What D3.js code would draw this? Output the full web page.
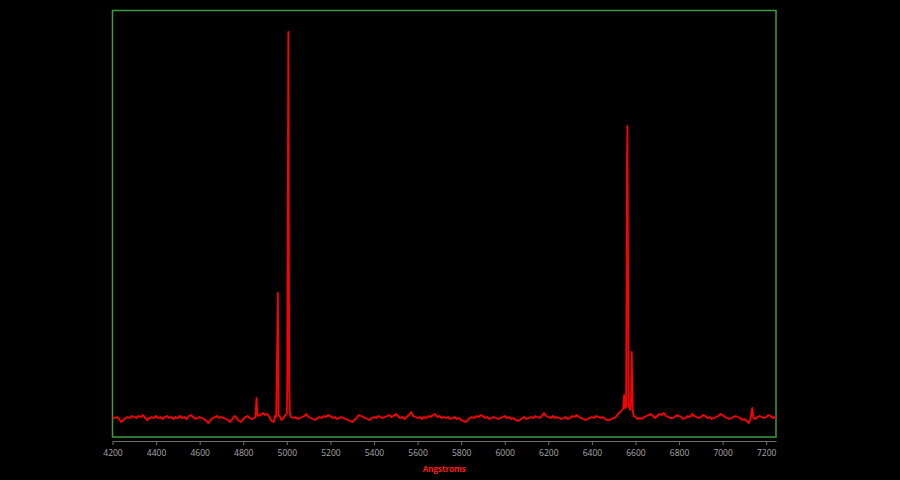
<!DOCTYPE html>
<html><head><meta charset="utf-8">
<script src="https://cdn.jsdelivr.net/npm/d3@7"></script>
<style>html,body{margin:0;padding:0;background:#000;} svg{display:block}</style>
</head><body>
<svg id="chart" width="900" height="480"></svg>
<script>
// Wavelength (Angstroms) of each sample
const wavelength = [
  4200,4210,4220,4230,4240,4250,4260,4270,4280,4290,
  4300,4310,4320,4330,4340,4350,4360,4370,4380,4390,
  4400,4410,4420,4430,4440,4450,4460,4470,4480,4490,
  4500,4510,4520,4530,4540,4550,4560,4570,4580,4590,
  4600,4610,4620,4630,4640,4650,4660,4670,4680,4690,
  4700,4710,4720,4730,4740,4750,4760,4770,4780,4790,
  4800,4810,4820,4830,4840,4850,4856,4861,4865,4870,
  4880,4890,4900,4910,4920,4930,4940,4946,4951,4955,4959,4962,
  4966,4970,4975,4980,4985,4990,4995,5000,5002,5007,5011,5014,5018,
  5030,5040,5050,5060,5070,5080,5090,
  5100,5110,5120,5130,5140,5150,5160,5170,5180,5190,
  5200,5210,5220,5230,5240,5250,5260,5270,5280,5290,
  5300,5310,5320,5330,5340,5350,5360,5370,5380,5390,
  5400,5410,5420,5430,5440,5450,5460,5470,5480,5490,
  5500,5510,5520,5530,5540,5550,5560,5570,5580,5590,
  5600,5610,5620,5630,5640,5650,5660,5670,5680,5690,
  5700,5710,5720,5730,5740,5750,5760,5770,5780,5790,
  5800,5810,5820,5830,5840,5850,5860,5870,5880,5890,
  5900,5910,5920,5930,5940,5950,5960,5970,5980,5990,
  6000,6010,6020,6030,6040,6050,6060,6070,6080,6090,
  6100,6110,6120,6130,6140,6150,6160,6170,6180,6190,
  6200,6210,6220,6230,6240,6250,6260,6270,6280,6290,
  6300,6310,6320,6330,6340,6350,6360,6370,6380,6390,
  6400,6410,6420,6430,6440,6450,6460,6470,6480,6490,
  6500,6510,6520,6530,6538,6544,6548,6552,6557,6561,6563,6565,6568,6572,6576,6580,6583,6587,6592,
  6600,6610,6620,6630,6640,6650,6660,6670,6680,6690,
  6700,6710,6720,6730,6740,6750,6760,6770,6780,6790,
  6800,6810,6820,6830,6840,6850,6860,6870,6880,6890,
  6900,6910,6920,6930,6940,6950,6960,6970,6980,6990,
  7000,7010,7020,7030,7040,7050,7060,7070,7080,7090,
  7100,7110,7120,7128,7136,7142,7150,7160,7170,7180,7190,
  7200,7210,7220,7230,7240,7245
];
// Relative flux of each sample
const flux = [
  20,19,20,18,15,17,19,20,19,21,
  20,19,21,20,22,19,17,19,20,19,
  21,19,20,18,20,21,19,20,18,20,
  19,21,19,20,18,21,22,20,18,19,
  20,19,18,16,14,17,19,20,21,19,
  20,19,18,17,15,18,21,19,16,15,
  18,20,21,19,18,19,20,39,22,21,
  22,24,22,23,20,16,15,21,20,80,144,22,
  21,20,17,18,19,21,22,24,52,405,52,24,20,
  19,20,18,19,20,21,23,
  20,19,18,17,19,20,19,21,20,22,
  21,19,20,18,19,20,19,18,17,16,
  15,17,19,22,21,20,19,18,17,19,
  20,19,21,20,19,20,21,22,20,21,
  23,21,19,20,18,20,22,25,21,20,
  19,20,18,20,19,21,20,22,23,20,
  21,19,20,19,20,18,19,20,18,19,
  17,16,15,17,19,20,19,21,20,22,
  21,19,20,18,19,20,19,18,19,20,
  21,19,20,18,19,17,16,17,19,20,
  18,19,20,19,21,20,19,21,24,21,
  20,19,21,19,20,19,18,19,20,18,
  19,21,20,22,20,19,18,17,18,19,
  20,19,21,20,19,20,18,17,17,18,
  19,20,23,25,27,28,42,29,30,274,311,237,32,30,27,40,85,27,21,
  20,18,19,18,20,21,22,23,21,19,
  21,23,22,24,21,20,19,19,20,22,
  21,20,18,19,21,20,23,21,20,19,
  20,22,21,19,20,18,19,20,21,23,
  22,20,19,18,19,20,21,20,19,17,
  18,16,14,18,29,19,18,20,21,20,19,
  20,22,21,19,20,19
];
const xTicks = [4200,4400,4600,4800,5000,5200,5400,5600,5800,6000,6200,6400,6600,6800,7000,7200];
const xDomain = [4200, 7245];
const yDomain = [0, 427];
const xLabel = "Angstroms";

const svg = d3.select("#chart");
svg.append("rect").attr("width", 900).attr("height", 480).attr("fill", "#000");

const x = d3.scaleLinear().domain(xDomain).range([112.5, 776]);
const y = d3.scaleLinear().domain(yDomain).range([437, 10]);

// plot frame
svg.append("rect")
  .attr("x", x(xDomain[0])).attr("y", 10.5)
  .attr("width", x(xDomain[1]) - x(xDomain[0])).attr("height", 426.5)
  .attr("fill", "none").attr("stroke", "#3f9d3a").attr("stroke-width", 1.5);

// x axis
const axis = d3.axisBottom(x).tickValues(xTicks).tickFormat(d3.format("d"))
  .tickSize(4).tickSizeOuter(0).tickPadding(5);
const g = svg.append("g").attr("transform", "translate(0,441)").call(axis);
g.select(".domain").attr("stroke", "#6e6e6e").attr("stroke-width", 1.2);
g.selectAll(".tick line").attr("stroke", "#6e6e6e");
g.selectAll(".tick text").attr("fill", "#a8a8a8")
  .attr("font-size", 8.5).attr("font-family", "'Open Sans', sans-serif");

svg.append("text")
  .attr("x", (x(xDomain[0]) + x(xDomain[1])) / 2).attr("y", 472)
  .attr("text-anchor", "middle").attr("fill", "#ff1a1a")
  .attr("font-size", 8).attr("font-weight", "bold")
  .attr("font-family", "'Open Sans', sans-serif")
  .text(xLabel);

// spectrum
const idx = d3.range(wavelength.length);
const line = d3.line().x(i => x(wavelength[i])).y(i => y(flux[i]));
svg.append("path").datum(idx)
  .attr("d", line)
  .attr("fill", "none").attr("stroke", "#ff0000")
  .attr("stroke-width", 1.8).attr("stroke-linejoin", "round");
</script>
</body></html>
